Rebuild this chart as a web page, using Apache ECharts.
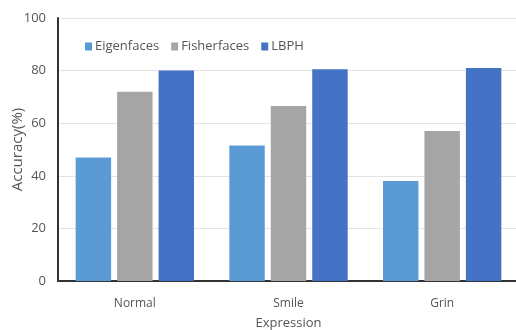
<!DOCTYPE html>
<html><head><meta charset="utf-8">
<script src="https://cdn.jsdelivr.net/npm/echarts@6/dist/echarts.min.js"></script>
<style>html,body{margin:0;padding:0;background:#fff}#c{width:516px;height:330px}</style>
</head><body><div id="c"></div>
<script>
var categories = ["Normal", "Smile", "Grin"];
var eigenfaces = [47, 51.5, 38];
var fisherfaces = [72, 66.5, 57];
var lbph = [80, 80.5, 81];
var seriesNames = ["Eigenfaces", "Fisherfaces", "LBPH"];
var colors = ["#5B9BD5", "#A5A5A5", "#4472C4"];

var chart = echarts.init(document.getElementById('c'), null, {renderer: 'canvas'});
var font = "'Open Sans', 'Noto Sans', sans-serif";
function mk(name, data, i) {
  return { name: name, type: 'bar', data: data, barGap: '17%', barCategoryGap: '23%',
    itemStyle: { color: colors[i] } };
}
chart.setOption({
  animation: false,
  color: colors,
  legend: { left: 80, top: 35, itemWidth: 7, itemHeight: 8, itemGap: 12,
    icon: 'rect', textStyle: { color: '#555', fontSize: 13, fontFamily: font, padding: [0,0,0,-2] },
    data: seriesNames },
  grid: { left: 58, right: -3, top: 18, bottom: 49, containLabel: false, outerBoundsMode: 'none' },
  xAxis: { type: 'category', data: categories,
    name: 'Expression', nameLocation: 'middle', nameGap: 36,
    nameTextStyle: { color: '#555', fontSize: 13, fontFamily: font },
    axisLine: { lineStyle: { color: '#333', width: 2 } },
    axisTick: { show: false },
    axisLabel: { color: '#555', fontSize: 12, fontFamily: font, margin: 17 } },
  yAxis: { type: 'value', min: 0, max: 100, interval: 20,
    name: 'Accuracy(%)', nameLocation: 'middle', nameGap: 33, nameMoveOverlap: false,
    nameTextStyle: { color: '#555', fontSize: 15, fontFamily: font },
    axisLine: { show: true, lineStyle: { color: '#333', width: 2 } },
    axisTick: { show: false },
    splitLine: { lineStyle: { color: '#e3e3e3' } },
    axisLabel: { color: '#555', fontSize: 13, fontFamily: font, margin: 12 } },
  series: [mk(seriesNames[0], eigenfaces, 0), mk(seriesNames[1], fisherfaces, 1), mk(seriesNames[2], lbph, 2)]
});
</script></body></html>
